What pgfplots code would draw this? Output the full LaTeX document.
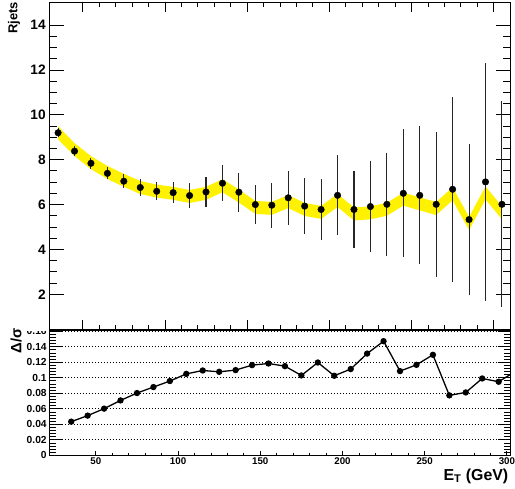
\documentclass[border=0pt]{standalone}
\usepackage{fontspec}
\setmainfont{Liberation Sans}
\usepackage{pgfplots}
\pgfplotsset{compat=1.18}
\usepackage{pgfplotstable}

% jet ratio per E_T bin: value and stat. error
\pgfplotstableread{
x    r     e
35   9.20  0.20
45   8.38  0.21
55   7.84  0.24
65   7.39  0.27
75   7.04  0.30
85   6.76  0.36
95   6.59  0.40
105  6.53  0.48
115  6.40  0.54
125  6.56  0.65
135  6.95  0.80
145  6.55  0.87
155  6.00  0.87
165  5.97  1.00
175  6.30  1.20
185  5.93  1.26
195  5.78  1.36
205  6.41  1.78
215  5.78  1.73
225  5.91  2.02
235  6.01  2.30
245  6.50  2.85
255  6.41  3.08
265  6.01  3.24
275  6.68  4.13
285  5.33  3.36
295  7.01  5.30
305  6.01  4.60
}\ratio

% prediction band outline: upper edge left to right, lower edge back
\pgfplotstableread{
x    y
35   9.49
45   8.74
55   8.16
65   7.72
75   7.37
85   7.05
95   6.89
105  6.79
115  6.65
125  6.79
135  7.13
145  6.67
155  6.16
165  6.12
175  6.42
185  6.07
195  5.94
205  6.47
215  5.87
225  5.92
235  6.08
245  6.53
255  6.32
265  6.11
275  6.77
285  5.44
295  6.81
305  5.92
305  5.34
295  6.23
285  4.86
275  6.19
265  5.53
255  5.74
245  5.95
235  5.50
225  5.34
215  5.29
205  5.89
195  5.36
185  5.49
175  5.84
165  5.54
155  5.58
145  6.09
135  6.55
125  6.21
115  6.07
105  6.21
95   6.31
85   6.47
75   6.79
65   7.14
55   7.58
45   8.16
35   8.91
}\band

% relative deviation per bin
\pgfplotstableread{
x    d
35   0.0434
45   0.0512
55   0.0602
65   0.0708
75   0.0803
85   0.0880
95   0.0958
105  0.1050
115  0.1094
125  0.1077
135  0.1099
145  0.1163
155  0.1184
165  0.1150
175  0.1030
185  0.1197
195  0.1026
205  0.1112
215  0.1312
225  0.1472
235  0.1086
245  0.1167
255  0.1296
265  0.0773
275  0.0811
285  0.0991
295  0.0949
305  0.1080
}\dev

\pgfplotsset{
  panel/.style={
    scale only axis, width=461.7bp, anchor=south west,
    axis line style={line width=1bp},
    tick style={black, line width=0.8bp},
    tick align=inside,
    /pgf/number format/assume math mode=true,
  },
  tickonly/.style={
    panel, axis line style={draw=none}, ytick=\empty,
  },
}

\begin{document}
\begin{tikzpicture}
\fill[white] (0,0) rectangle (515bp,490bp);

% lower panel: frame, y ticks, grid and deviation curve
\begin{axis}[panel, at={(50bp,33.3bp)}, height=125.7bp,
  xmin=22, xmax=302, ymin=0, ymax=0.1616,
  xtick=\empty,
  ytick={0,0.02,0.04,0.06,0.08,0.1,0.12,0.14,0.16},
  yticklabels={0,0.02,0.04,0.06,0.08,0.1,0.12,0.14,0.16},
  minor y tick num=4,
  major tick length=12bp, minor tick length=6bp,
  yticklabel pos=left,
  yticklabel style={font=\fontsize{10.3}{11}\selectfont\bfseries, inner sep=0pt, xshift=-3bp},
  ymajorgrids,
  major grid style={black, line width=0.7bp, dash pattern=on 1bp off 2bp},
]
\addplot[black, line width=1.3bp, mark=*, mark size=2.5bp] table[x=x, y=d] {\dev};
\end{axis}

% lower panel: x ticks and labels
\begin{axis}[tickonly, at={(50bp,33.3bp)}, height=125.7bp,
  xmin=22, xmax=302, ymin=0, ymax=0.1616,
  xtick={50,100,150,200,250,300},
  xticklabels={50,100,150,200,250,300},
  minor x tick num=4, xtick pos=bottom,
  major tick length=4.5bp, minor tick length=2.3bp,
  xticklabel style={font=\fontsize{9.8}{10}\selectfont\bfseries, inner sep=0pt, yshift=-2.5bp},
]
\end{axis}

% the upper pad hides the top of the lower pad's margin
\fill[white] (0,158.5bp) rectangle (48.5bp,178bp);

% upper panel: frame, y ticks, band and data points
\begin{axis}[panel, at={(50bp,160bp)}, height=327.3bp,
  xmin=30, xmax=310, ymin=0.45, ymax=15,
  xtick=\empty,
  ytick={2,4,6,8,10,12,14},
  yticklabels={2,4,6,8,10,12,14},
  minor y tick num=3,
  major tick length=14bp, minor tick length=7bp,
  yticklabel pos=left,
  yticklabel style={font=\fontsize{13.8}{14}\selectfont\bfseries, inner sep=0pt, xshift=-4bp},
]
\addplot[fill=yellow, draw=none] table[x=x, y=y] {\band};
\addplot[only marks, black, mark=*, mark size=3.3bp,
  error bars/.cd, y dir=both, y explicit, error mark=none,
  error bar style={line width=1.1bp, black!85}]
  table[x=x, y=r, y error=e] {\ratio};
\end{axis}

% upper panel: x ticks top and bottom, no labels
\begin{axis}[tickonly, at={(50bp,160bp)}, height=327.3bp,
  xmin=30, xmax=310, ymin=0.45, ymax=15,
  xtick={50,100,150,200,250,300}, xticklabels={},
  minor x tick num=4,
  major tick length=9bp, minor tick length=4.5bp,
]
\end{axis}

% axis titles
\node[rotate=90, anchor=base east, inner sep=0pt,
  font=\fontsize{13}{13}\selectfont\bfseries] at (17.5bp,488bp) {Rjets};
\node[rotate=90, anchor=base east, inner sep=0pt,
  font=\fontsize{15}{15}\selectfont\bfseries] at (21.5bp,161bp) {Δ/σ};
\node[anchor=base east, inner sep=0pt,
  font=\fontsize{16}{16}\selectfont\bfseries] at (510bp,8.3bp) {E\textsubscript{T} (GeV)};
\end{tikzpicture}
\end{document}
